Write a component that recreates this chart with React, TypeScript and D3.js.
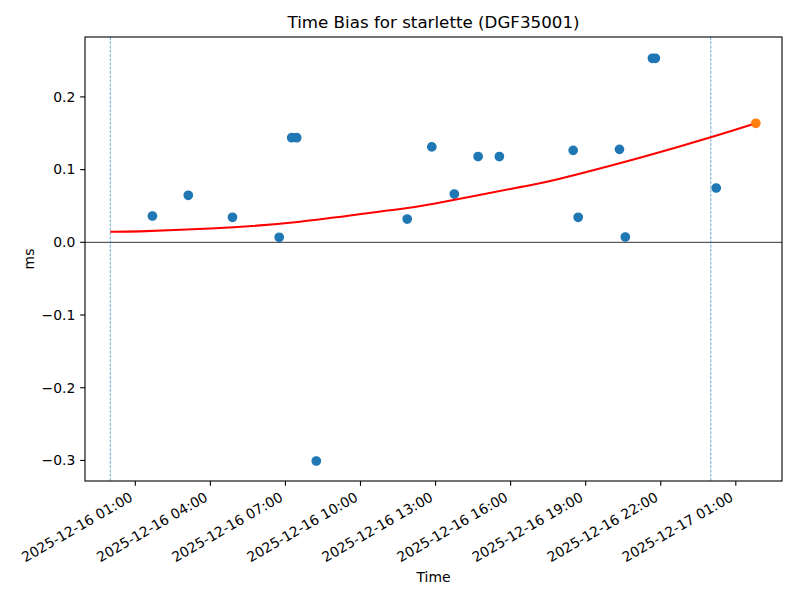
import React, { useEffect } from "react";
import * as d3 from "d3";

// ---- data ----
const obsTimes = [
  "2025-12-16 01:41", "2025-12-16 03:07", "2025-12-16 04:53", "2025-12-16 06:45",
  "2025-12-16 07:15", "2025-12-16 07:27", "2025-12-16 08:14", "2025-12-16 11:52",
  "2025-12-16 12:51", "2025-12-16 13:45", "2025-12-16 14:42", "2025-12-16 15:33",
  "2025-12-16 18:30", "2025-12-16 18:42", "2025-12-16 20:21", "2025-12-16 20:35",
  "2025-12-16 21:40", "2025-12-16 21:47", "2025-12-17 00:13",
];
const obsBias = [
  0.0362, 0.0647, 0.0344, 0.0069,
  0.1439, 0.1439, -0.3008, 0.032,
  0.1312, 0.0664, 0.118, 0.118,
  0.1265, 0.0344, 0.1279, 0.0073,
  0.2531, 0.2531, 0.0747,
];
const predTime = ["2025-12-17 01:48"];
const predBias = [0.1637];

const fitTimes = [
  "2025-12-16 00:00", "2025-12-16 01:11", "2025-12-16 04:00", "2025-12-16 07:35",
  "2025-12-16 11:11", "2025-12-16 12:59", "2025-12-16 16:22", "2025-12-16 17:58",
  "2025-12-16 21:10", "2025-12-17 00:00", "2025-12-17 01:48",
];
const fitBias = [
  0.0146, 0.0151, 0.0189, 0.0284,
  0.044, 0.0533, 0.0759, 0.0874,
  0.1163, 0.1444, 0.1637,
];

const dayLines = ["2025-12-16 00:00", "2025-12-17 00:00"];

const xTickLabels = [
  "2025-12-16 01:00", "2025-12-16 04:00", "2025-12-16 07:00", "2025-12-16 10:00",
  "2025-12-16 13:00", "2025-12-16 16:00", "2025-12-16 19:00", "2025-12-16 22:00",
  "2025-12-17 01:00",
];
const yTicks = [-0.3, -0.2, -0.1, 0.0, 0.1, 0.2];

const xDomain = ["2025-12-15 22:59:20", "2025-12-17 02:50:46"];
const yDomain = [-0.3283, 0.2824];

// ---- layout ----
const W = 800, H = 600;
const L = 85, R = 782, T = 37, B = 481;
const FONT = "'DejaVu Sans', sans-serif";
const C0 = "#1f77b4", C1 = "#ff7f0e";

const parse = d3.utcParse("%Y-%m-%d %H:%M");
const parseS = d3.utcParse("%Y-%m-%d %H:%M:%S");

export default function App() {
  useEffect(() => {
    document.body.style.margin = "0";
  }, []);

  const x = d3.scaleUtc()
    .domain([parseS(xDomain[0])!, parseS(xDomain[1])!])
    .range([L, R]);
  const y = d3.scaleLinear().domain(yDomain).range([B, T]);

  const fmtY = (v: number) => {
    const s = Math.abs(v).toFixed(1);
    return v < -1e-9 ? "\u2212" + s : s;
  };

  const fitLine = d3.line<number>()
    .x((_, i) => x(parse(fitTimes[i])!))
    .y((_, i) => y(fitBias[i]))
    .curve(d3.curveNatural)(fitBias);

  const tickLen = 4.86;
  const pad = 4.86;
  const fs = 13.9;

  return (
    <svg width={W} height={H} style={{ display: "block", background: "#fff" }} fontFamily={FONT}>
      <rect x={0} y={0} width={W} height={H} fill="#fff" />
      <defs>
        <clipPath id="plotclip">
          <rect x={L} y={T} width={R - L} height={B - T} />
        </clipPath>
      </defs>
      <g clipPath="url(#plotclip)">
        {/* zero line */}
        <line x1={L} x2={R} y1={y(0)} y2={y(0)} stroke="#000" strokeWidth={0.8} />
        {/* day boundaries */}
        {dayLines.map((d, i) => (
          <line key={i} x1={x(parse(d)!)} x2={x(parse(d)!)} y1={T} y2={B}
            stroke={C0} strokeWidth={0.8} strokeDasharray="2.96,1.28" opacity={0.8} />
        ))}
        {/* observations */}
        {obsBias.map((v, i) => (
          <circle key={i} cx={x(parse(obsTimes[i])!)} cy={y(v)} r={4.17}
            fill={C0} stroke={C0} strokeWidth={1.39} />
        ))}
        {/* fit */}
        <path d={fitLine || ""} fill="none" stroke="#ff0000" strokeWidth={2.08} />
        {/* prediction */}
        {predBias.map((v, i) => (
          <circle key={i} cx={x(parse(predTime[i])!)} cy={y(v)} r={4.17}
            fill={C1} stroke={C1} strokeWidth={1.39} />
        ))}
      </g>
      {/* spines */}
      <rect x={L} y={T} width={R - L} height={B - T} fill="none" stroke="#000" strokeWidth={1.1} />
      {/* x ticks */}
      {xTickLabels.map((t, i) => {
        const px = x(parse(t)!);
        const ax = px - 1.6;
        const ay = B + tickLen + pad + 9.3;
        return (
          <g key={i}>
            <line x1={px} x2={px} y1={B} y2={B + tickLen} stroke="#000" strokeWidth={1.1} />
            <text x={ax} y={ay} fontSize={fs} textAnchor="end"
              transform={`rotate(-30 ${ax} ${ay})`} fill="#000">{t}</text>
          </g>
        );
      })}
      {/* y ticks */}
      {yTicks.map((v, i) => (
        <g key={i}>
          <line x1={L - tickLen} x2={L} y1={y(v)} y2={y(v)} stroke="#000" strokeWidth={1.1} />
          <text x={L - tickLen - pad} y={y(v)} dy="0.35em" fontSize={fs} textAnchor="end" fill="#000">
            {fmtY(v)}
          </text>
        </g>
      ))}
      {/* title & labels */}
      <text x={(L + R) / 2} y={T - 9} fontSize={16.7} textAnchor="middle" fill="#000">
        Time Bias for starlette (DGF35001)
      </text>
      <text x={(L + R) / 2} y={582} fontSize={fs} textAnchor="middle" fill="#000">Time</text>
      <text x={0} y={0} fontSize={fs} textAnchor="middle" fill="#000"
        transform={`translate(34 ${(T + B) / 2}) rotate(-90)`}>ms</text>
    </svg>
  );
}
